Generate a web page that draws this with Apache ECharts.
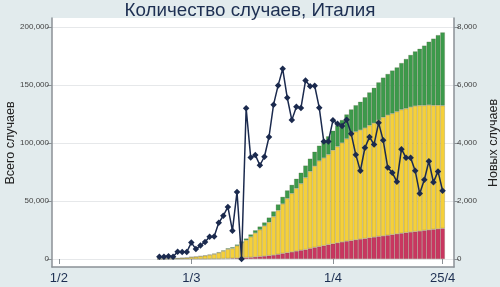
<!DOCTYPE html>
<html><head><meta charset="utf-8">
<script src="https://cdn.jsdelivr.net/npm/echarts@6/dist/echarts.min.js"></script>
<style>html,body{margin:0;padding:0;background:#e2ebed}#c{width:500px;height:287px}</style>
</head><body><div id="c"></div>
<script>
const dates = ['2020-02-23','2020-02-24','2020-02-25','2020-02-26','2020-02-27','2020-02-28','2020-02-29',
'2020-03-01','2020-03-02','2020-03-03','2020-03-04','2020-03-05','2020-03-06','2020-03-07','2020-03-08','2020-03-09','2020-03-10',
'2020-03-11','2020-03-12','2020-03-13','2020-03-14','2020-03-15','2020-03-16','2020-03-17','2020-03-18','2020-03-19','2020-03-20',
'2020-03-21','2020-03-22','2020-03-23','2020-03-24','2020-03-25','2020-03-26','2020-03-27','2020-03-28','2020-03-29','2020-03-30','2020-03-31',
'2020-04-01','2020-04-02','2020-04-03','2020-04-04','2020-04-05','2020-04-06','2020-04-07','2020-04-08','2020-04-09','2020-04-10',
'2020-04-11','2020-04-12','2020-04-13','2020-04-14','2020-04-15','2020-04-16','2020-04-17','2020-04-18','2020-04-19','2020-04-20',
'2020-04-21','2020-04-22','2020-04-23','2020-04-24','2020-04-25'];
const deaths = [3,7,10,12,17,21,29,
34,52,79,107,148,197,233,366,463,631,
827,1016,1266,1441,1809,2158,2503,2978,3405,4032,
4825,5476,6077,6820,7503,8165,9134,10023,10779,11591,12428,
13155,13915,14681,15362,15887,16523,17127,17669,18279,18849,
19468,19899,20465,21067,21645,22170,22745,23227,23660,24114,
24648,25085,25549,25969,26384];
const active = [152,221,311,385,588,821,1049,
1577,1835,2263,2706,3296,3916,5061,6387,7985,8514,
10590,12839,14955,17750,20603,23073,26062,28710,33190,37860,
42681,46638,50418,54030,57521,62013,66414,70065,73880,75528,77635,
80572,83049,85388,88274,91246,93187,94067,95262,96877,98273,
100269,102253,103616,104291,105418,106607,106962,107771,108257,108237,
107709,107699,106848,106527,105847];
const recovered = [0,1,1,3,45,46,50,
83,149,160,276,414,523,589,622,724,1004,
1045,1258,1439,1966,2335,2749,2941,4025,4440,5129,
6072,7024,7432,8326,9362,10361,10950,12384,13030,14620,15729,
16847,18278,19758,20996,21815,22837,24392,26491,28470,30455,
32534,34211,35435,37130,38092,40164,42727,44927,47055,48877,
51600,54543,57576,60498,63120];
const newCases = [76,74,93,78,250,238,240,
566,342,466,587,769,778,1247,1492,1797,977,
2313,0,5198,3497,3590,3233,3526,4207,5322,5986,
6557,5560,4789,5249,5210,6153,5959,5974,5217,4050,4053,
4782,4668,4585,4805,4316,3599,3039,3836,4204,3951,
4694,4092,3153,2972,2667,3786,3493,3491,3047,2256,
2729,3370,2646,3021,2357];
const xTickDates = ['2020-02-01','2020-03-01','2020-04-01','2020-04-25'];
const xTickLabels = ['1/2','1/3','1/4','25/4'];
const axisStart = '2020-01-31';
const axisEnd = '2020-04-27';
const titleText = 'Количество случаев, Италия';
const leftName = 'Всего случаев';
const rightName = 'Новых случаев';

// build the daily category axis
const DAY = 86400000;
const t0 = Date.parse(axisStart + 'T00:00:00Z');
const t1 = Date.parse(axisEnd + 'T00:00:00Z');
const cats = [];
for (let t = t0; t <= t1; t += DAY) cats.push(new Date(t).toISOString().slice(0,10));
const align = arr => cats.map(c => { const i = dates.indexOf(c); return i < 0 ? '-' : arr[i]; });
const isTick = (idx) => xTickDates.indexOf(cats[idx]) >= 0;
const fmt = v => String(v).replace(/\B(?=(\d{3})+(?!\d))/g, ',');
const FONT = 'Liberation Sans, Arial, sans-serif';
const axisGray = '#8b9196';
const barBorder = {borderColor:'rgba(90,90,60,0.45)', borderWidth:0.5};

const chart = echarts.init(document.getElementById('c'), null, {renderer:'canvas'});
chart.setOption({
  animation:false,
  backgroundColor:'#e2ebed',
  textStyle:{fontFamily:FONT},
  title:{text:titleText, left:'center', top:-4, padding:[5,0,5,7],
    textStyle:{fontSize:18.8, fontWeight:'normal', color:'#1d2f52', fontFamily:FONT}},
  grid:[
    {left:52, right:46, top:27, bottom:28, outerBoundsMode:'none', containLabel:false},
    {left:52, right:46, top:18, bottom:20, outerBoundsMode:'none', containLabel:false,
     show:true, backgroundColor:'#ffffff', borderWidth:0, z:-5}
  ],
  xAxis:[
    {type:'category', gridIndex:0, data:cats, boundaryGap:true, offset:8,
     axisLine:{show:false},
     axisTick:{show:true, length:5, alignWithLabel:true, interval:isTick, lineStyle:{color:axisGray}},
     axisLabel:{interval:isTick, fontSize:13, color:'#1d2f52', margin:5,
       formatter:v => { const i = xTickDates.indexOf(v); return i >= 0 ? xTickLabels[i] : ''; }},
     splitLine:{show:false}},
    {type:'value', gridIndex:1, min:0, max:1, axisLine:{show:true, lineStyle:{color:axisGray, width:1.5}},
     axisTick:{show:false}, axisLabel:{show:false}, splitLine:{show:false}}
  ],
  yAxis:[
    {type:'value', gridIndex:0, position:'left', min:0, max:200000, interval:50000,
     axisLine:{show:false},
     axisTick:{show:true, length:5, lineStyle:{color:axisGray}},
     axisLabel:{fontSize:8, color:'#444', margin:3, formatter:fmt},
     splitLine:{show:true, lineStyle:{color:'#e6e8ea', width:1}},
     name:leftName, nameLocation:'middle', nameGap:35, nameRotate:90, nameMoveOverlap:false,
     nameTextStyle:{fontSize:12.5, color:'#222', fontFamily:FONT}},
    {type:'value', gridIndex:0, position:'right', min:0, max:8000, interval:2000,
     axisLine:{show:false},
     axisTick:{show:true, length:5, lineStyle:{color:axisGray}},
     axisLabel:{fontSize:8, color:'#444', margin:3, formatter:fmt},
     splitLine:{show:false},
     name:rightName, nameLocation:'middle', nameGap:33, nameRotate:90, nameMoveOverlap:false,
     nameTextStyle:{fontSize:12.5, color:'#222', fontFamily:FONT}},
    {type:'value', gridIndex:1, position:'left', min:0, max:1,
     axisLine:{show:true, lineStyle:{color:axisGray, width:1.5}},
     axisTick:{show:false}, axisLabel:{show:false}, splitLine:{show:false}},
    {type:'value', gridIndex:1, position:'right', min:0, max:1,
     axisLine:{show:true, lineStyle:{color:axisGray, width:1.5}},
     axisTick:{show:false}, axisLabel:{show:false}, splitLine:{show:false}}
  ],
  series:[
    {type:'bar', name:'Умерло', stack:'t', xAxisIndex:0, yAxisIndex:0, barWidth:'100%',
     itemStyle:Object.assign({color:'#c93660'}, barBorder), data:align(deaths)},
    {type:'bar', name:'Болеет', stack:'t', xAxisIndex:0, yAxisIndex:0, barWidth:'100%',
     itemStyle:Object.assign({color:'#f5d03a'}, barBorder), data:align(active)},
    {type:'bar', name:'Выздоровело', stack:'t', xAxisIndex:0, yAxisIndex:0, barWidth:'100%',
     itemStyle:Object.assign({color:'#3c9a4b'}, barBorder), data:align(recovered)},
    {type:'line', name:'Новых случаев', xAxisIndex:0, yAxisIndex:1, z:5, connectNulls:false,
     symbol:'diamond', symbolSize:6.5, showAllSymbol:true,
     lineStyle:{color:'#1b2a4e', width:1.5}, itemStyle:{color:'#1b2a4e'},
     data:align(newCases)}
  ]
});
</script></body></html>
